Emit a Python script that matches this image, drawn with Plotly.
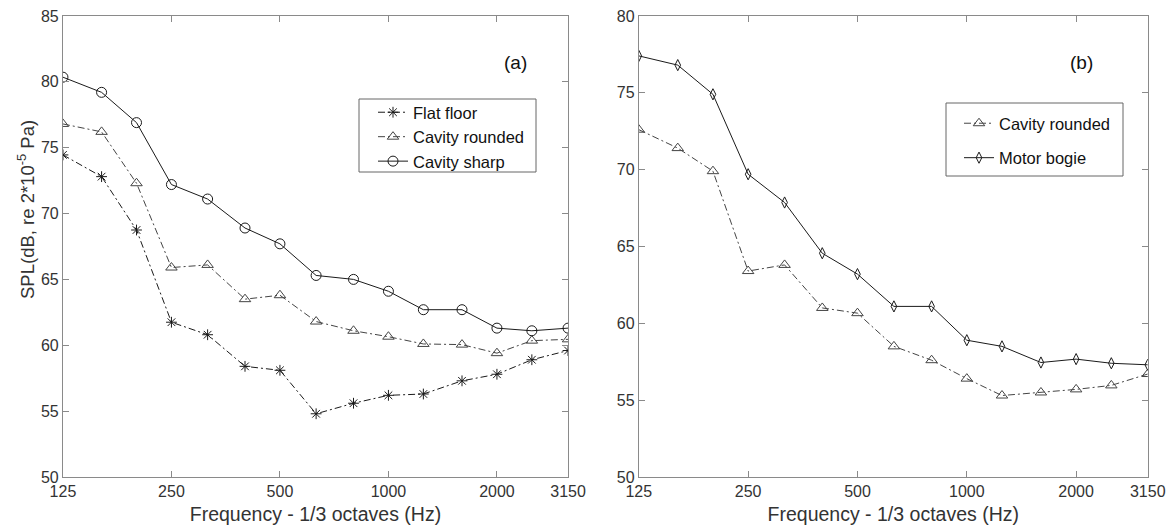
import numpy as np
import plotly.graph_objects as go

freqs = [125, 160, 200, 250, 315, 400, 500, 630, 800, 1000, 1250, 1600, 2000, 2500, 3150]
x_ticks = [125, 250, 500, 1000, 2000, 3150]

# Panel (a)
flat_floor = [74.45, 72.8, 68.75, 61.75, 60.8, 58.4, 58.1, 54.8, 55.6, 56.2, 56.3, 57.3, 57.8, 58.9, 59.6]
cavity_rounded_a = [76.8, 76.2, 72.3, 65.9, 66.1, 63.5, 63.8, 61.8, 61.1, 60.65, 60.1, 60.05, 59.4, 60.35, 60.45]
cavity_sharp = [80.35, 79.2, 76.9, 72.2, 71.1, 68.9, 67.7, 65.3, 65.0, 64.1, 62.7, 62.7, 61.3, 61.1, 61.3]

# Panel (b)
cavity_rounded_b = [72.6, 71.4, 69.9, 63.4, 63.8, 61.0, 60.66, 58.5, 57.6, 56.4, 55.3, 55.5, 55.7, 55.96, 56.7]
motor_bogie = [77.4, 76.8, 74.9, 69.7, 67.86, 64.56, 63.2, 61.1, 61.1, 58.9, 58.5, 57.45, 57.67, 57.4, 57.3]

FONT = "Liberation Sans, Arial, Helvetica, sans-serif"
AX = "#8a8a8a"
TXT = "#333333"
DASHDOT = "7px,3px,2px,3px"
W, H = 1170, 531

fig = go.Figure()

def add(x, y, name, symbol, dash, color, xa, ya, legend, size, group):
    fig.add_trace(go.Scatter(
        x=x, y=y, name=name, mode="lines+markers",
        line=dict(color=color, width=1, dash=dash),
        marker=dict(symbol=symbol, size=size, color=color, line=dict(color=color, width=1)),
        xaxis=xa, yaxis=ya, legend=legend, legendgroup=group,
    ))

add(freqs, flat_floor, "Flat floor", "asterisk-open", DASHDOT, "#1a1a1a", "x", "y", "legend", 9, "a1")
add(freqs, cavity_rounded_a, "Cavity rounded", "triangle-up-open", DASHDOT, "#444444", "x", "y", "legend", 10, "a2")
add(freqs, cavity_sharp, "Cavity sharp", "circle-open", "solid", "#1a1a1a", "x", "y", "legend", 10, "a3")

add(freqs, cavity_rounded_b, "Cavity rounded", "triangle-up-open", DASHDOT, "#444444", "x2", "y2", "legend2", 10, "b1")
add(freqs, motor_bogie, "Motor bogie", "diamond-tall-open", "solid", "#1a1a1a", "x2", "y2", "legend2", 8, "b2")

xr = [np.log10(125), np.log10(3150)]
xcommon = dict(type="log", range=xr, tickvals=x_ticks, ticktext=[str(v) for v in x_ticks],
               ticks="inside", ticklen=6, tickcolor=AX, showline=True, linecolor=AX, linewidth=1,
               mirror="ticks", showgrid=False, zeroline=False, automargin=False,
               tickfont=dict(family=FONT, size=16, color=TXT),
               title=dict(text="Frequency - 1/3 octaves (Hz)", font=dict(family=FONT, size=19.5, color=TXT), standoff=8))
ycommon = dict(ticks="inside", ticklen=6, tickcolor=AX, showline=True, linecolor=AX, linewidth=1,
               mirror="ticks", showgrid=False, zeroline=False, automargin=False, dtick=5,
               tickfont=dict(family=FONT, size=16, color=TXT))

legcommon = dict(bgcolor="rgba(0,0,0,0)", borderwidth=0,
                 font=dict(family=FONT, size=16.5, color="#111111"),
                 xanchor="left", yanchor="top", traceorder="grouped")

def px(xp, yp):
    return xp / W, 1 - yp / H

fig.update_layout(
    width=W, height=H,
    margin=dict(l=0, r=0, t=0, b=0),
    paper_bgcolor="white", plot_bgcolor="white",
    xaxis=dict(domain=[0.0538, 0.4855], anchor="y", **xcommon),
    yaxis=dict(domain=[0.1017, 0.970], anchor="x", range=[50, 85], **ycommon),
    xaxis2=dict(domain=[0.546, 0.981], anchor="y2", **xcommon),
    yaxis2=dict(domain=[0.1017, 0.970], anchor="x2", range=[50, 80], **ycommon),
    legend=dict(x=px(373, 0)[0], y=px(0, 95)[1], tracegroupgap=0, **legcommon),
    legend2=dict(x=px(959, 0)[0], y=px(0, 106)[1], tracegroupgap=10, **legcommon),
    shapes=[
        dict(type="rect", xref="paper", yref="paper", layer="above",
             x0=px(359, 0)[0], x1=px(536, 0)[0], y0=px(0, 172)[1], y1=px(0, 99)[1],
             line=dict(color="#666666", width=1), fillcolor="white"),
        dict(type="rect", xref="paper", yref="paper", layer="above",
             x0=px(946, 0)[0], x1=px(1123, 0)[0], y0=px(0, 176)[1], y1=px(0, 103)[1],
             line=dict(color="#666666", width=1), fillcolor="white"),
    ],
    annotations=[
        dict(text="SPL(dB, re 2*10<sup>-5</sup> Pa)", textangle=-90,
             x=px(26, 0)[0], y=px(0, 210)[1], xref="paper", yref="paper",
             xanchor="center", yanchor="middle", showarrow=False,
             font=dict(family=FONT, size=18.5, color=TXT)),
        dict(text="(a)", x=px(515, 0)[0], y=px(0, 50)[1], xref="paper", yref="paper", showarrow=False,
             font=dict(family=FONT, size=19, color="#111111")),
        dict(text="(b)", x=px(1095, 0)[0], y=px(0, 50)[1], xref="paper", yref="paper", showarrow=False,
             font=dict(family=FONT, size=19, color="#111111")),
    ],
)

fig.write_html("out.html")
